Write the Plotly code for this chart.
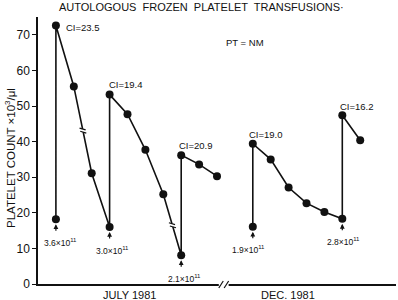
import plotly.graph_objects as go

# ---- data ----
july_day = [0, 0, 1, 2, 3, 3, 4, 5, 6, 7, 7, 8, 9]
july_count = [18.2, 72.6, 55.5, 31.1, 16.0, 53.2, 47.7, 37.7, 25.2, 8.1, 36.2, 33.6, 30.3]
dec_day = [11, 11, 12, 13, 14, 15, 16, 16, 17]
dec_count = [16.1, 39.4, 35.0, 27.1, 22.7, 20.2, 18.3, 47.4, 40.4]

ci_day = [0, 3, 7, 11, 16]
ci_count = [72.6, 53.2, 36.2, 39.4, 47.4]
ci_labels = ["CI=23.5", "CI=19.4", "CI=20.9", "CI=19.0", "CI=16.2"]

dose_day = [0, 3, 7, 11, 16]
dose_count = [18.2, 16.0, 8.1, 16.1, 18.3]
dose_labels = ["3.6×10<sup>11</sup>", "3.0×10<sup>11</sup>", "2.1×10<sup>11</sup>",
               "1.9×10<sup>11</sup>", "2.8×10<sup>11</sup>"]

month_labels = ["JULY 1981", "DEC. 1981"]
month_pos = [4.1, 12.95]
y_ticks = [0, 10, 20, 30, 40, 50, 60, 70]

XMIN, XMAX = -1, 19
INK = "#111111"
FONT = "Liberation Sans"
PLOT_H = 267

fig = go.Figure()
for xs, ys in [(july_day, july_count), (dec_day, dec_count)]:
    fig.add_trace(go.Scatter(x=xs, y=ys, mode="lines+markers",
                             line=dict(color=INK, width=1.6),
                             marker=dict(color=INK, size=8),
                             cliponaxis=False, hoverinfo="skip"))

ann = []
# CI labels
ci_shift = [(8, -2), (-3, 10), (-4, 10), (-6, 9), (-4, 9)]
for d, c, t, (xs, ys) in zip(ci_day, ci_count, ci_labels, ci_shift):
    ann.append(dict(x=d, y=c, text=t, showarrow=False, xanchor="left", yanchor="middle",
                    xshift=xs, yshift=ys, font=dict(size=9.5, color=INK, family=FONT)))
# dose arrows + labels
dose_xshift = [5, 3, 3.5, -4, 1.5]
for d, c, t, xs in zip(dose_day, dose_count, dose_labels, dose_xshift):
    ann.append(dict(x=d, y=c, ax=0, ay=13, text="", showarrow=True, arrowhead=2,
                    arrowsize=0.8, arrowwidth=1.2, arrowcolor=INK, standoff=5))
    ann.append(dict(x=d, y=c, text=t, showarrow=False, xshift=xs, yshift=-23,
                    yanchor="middle", font=dict(size=8.5, color=INK, family=FONT)))
# month labels
for p, t in zip(month_pos, month_labels):
    ann.append(dict(x=p, y=-11 / PLOT_H, xref="x", yref="paper", text=t, showarrow=False,
                    xanchor="center", yanchor="middle",
                    font=dict(size=11, color=INK, family=FONT)))
# title / notes
ann.append(dict(x=0.458, y=(284 - 7) / PLOT_H, xref="paper", yref="paper",
                xanchor="center", yanchor="middle",
                text="AUTOLOGOUS  FROZEN  PLATELET  TRANSFUSIONS·", showarrow=False,
                font=dict(size=11, color=INK, family=FONT)))
ann.append(dict(x=10.56, y=67.8, text="PT = NM", showarrow=False,
                font=dict(size=9.5, color=INK, family=FONT)))
ann.append(dict(x=-28 / 358, y=(284 - 158) / PLOT_H, xref="paper", yref="paper",
                xanchor="center", yanchor="middle",
                text="PLATELET COUNT ×10<sup>3</sup>/μl", textangle=-90, showarrow=False,
                font=dict(size=11.5, color=INK, family=FONT)))

def px(t):
    return (t - XMIN) / (XMAX - XMIN)

shapes = []
# break in x axis
shapes.append(dict(type="rect", xref="paper", yref="paper", x0=px(9.1), x1=px(9.65),
                   y0=-0.02, y1=0.01, fillcolor="white", line=dict(width=0), layer="above"))
for a in (9.1, 9.4):
    shapes.append(dict(type="line", xref="paper", yref="paper", x0=px(a), x1=px(a + 0.25),
                       y0=-4 / PLOT_H, y1=3 / PLOT_H, line=dict(color=INK, width=1.2),
                       layer="above"))
# break marks on data lines
for (tc, vc, slope) in [(1.51, 43.1, -24.4), (6.51, 16.5, -17.1)]:
    dv = 0.45
    dt = dv / abs(slope)
    shapes.append(dict(type="line", x0=tc - dt, x1=tc + dt, y0=vc + dv, y1=vc - dv,
                       line=dict(color="white", width=3), layer="above"))
    for s in (+1, -1):
        shapes.append(dict(type="line", x0=tc + s * -dt - 0.17, x1=tc + s * -dt + 0.17,
                           y0=vc + s * dv + 0.25, y1=vc + s * dv - 0.25,
                           line=dict(color=INK, width=1.2), layer="above"))

fig.update_layout(
    width=398, height=300,
    margin=dict(l=38, r=2, t=17, b=16),
    paper_bgcolor="white", plot_bgcolor="white",
    showlegend=False,
    annotations=ann, shapes=shapes,
    xaxis=dict(range=[XMIN, XMAX], showline=True, linecolor=INK, linewidth=1.5,
               showticklabels=False, ticks="", showgrid=False, zeroline=False),
    yaxis=dict(range=[0, 75], showline=True, linecolor=INK, linewidth=1.5,
               ticks="outside", ticklen=4, tickwidth=1.2, tickcolor=INK,
               tickvals=y_ticks, showgrid=False, zeroline=False,
               tickfont=dict(size=12, color=INK, family=FONT)),
)

fig.write_html("out.html")
